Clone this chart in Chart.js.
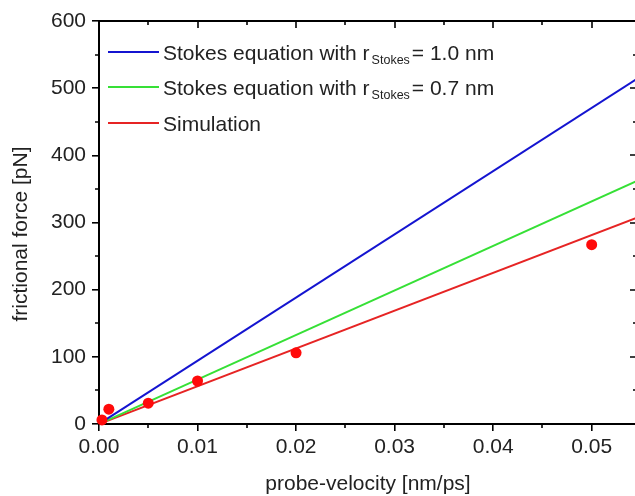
<!DOCTYPE html>
<html>
<head>
<meta charset="utf-8">
<script src="https://cdn.jsdelivr.net/npm/chart.js@4/dist/chart.umd.min.js"></script>
<style>
html,body{margin:0;padding:0;background:#fff;overflow:hidden;width:635px;height:496px;}
canvas{display:block;}
</style>
</head>
<body>
<canvas id="c" width="642" height="496"></canvas>
<script>
// ---- data ----
const xTicks = [0, 0.01, 0.02, 0.03, 0.04, 0.05];
const xTickLabels = ['0.00', '0.01', '0.02', '0.03', '0.04', '0.05'];
const xMinorTicks = [0.005, 0.015, 0.025, 0.035, 0.045];
const yTicks = [0, 100, 200, 300, 400, 500, 600];
const yTickLabels = ['0', '100', '200', '300', '400', '500', '600'];
const yMinorTicks = [50, 150, 250, 350, 450, 550];
const xMin = 0, xMax = 0.0546, yMin = 0, yMax = 600;

const lineX = [0, 0.0546];
const stokes10 = [0, 514];   // r_Stokes = 1.0 nm
const stokes07 = [0, 362];   // r_Stokes = 0.7 nm
const simFit = [0, 307];     // simulation fit line

const simX = [0.0003, 0.001, 0.005, 0.01, 0.02, 0.05];
const simY = [6, 22, 31, 64, 106, 267];

const legendMain = ['Stokes equation with r', 'Stokes equation with r', 'Simulation'];
const legendSub = ['Stokes', 'Stokes', ''];
const legendTail = ['= 1.0 nm', '= 0.7 nm', ''];
const xTitle = 'probe-velocity [nm/ps]';
const yTitle = 'frictional force [pN]';

const colBlue = '#1414d0', colGreen = '#36e036', colRed = '#e62424', colDot = '#ff0a0a';
const FONT = "'Liberation Sans', Arial, sans-serif";

const pts = (xs, ys) => xs.map((x, i) => ({x: x, y: ys[i]}));

const decor = {
  id: 'decor',
  afterDraw(chart) {
    const ctx = chart.ctx, a = chart.chartArea;
    const xs = chart.scales.x, ys = chart.scales.y;
    ctx.save();
    ctx.strokeStyle = '#000';
    ctx.lineWidth = 2;
    ctx.beginPath();
    ctx.moveTo(a.left - 1, a.top); ctx.lineTo(a.right, a.top);
    ctx.moveTo(a.right, a.top); ctx.lineTo(a.right, a.bottom);
    ctx.stroke();
    ctx.lineWidth = 1.6;
    ctx.beginPath();
    xMinorTicks.forEach(v => {
      const p = Math.round(xs.getPixelForValue(v));
      ctx.moveTo(p, a.bottom); ctx.lineTo(p, a.bottom + 4);
      ctx.moveTo(p, a.top); ctx.lineTo(p, a.top + 4);
    });
    xTicks.forEach(v => {
      const p = Math.round(xs.getPixelForValue(v));
      ctx.moveTo(p, a.top); ctx.lineTo(p, a.top + 7);
    });
    yMinorTicks.forEach(v => {
      const p = Math.round(ys.getPixelForValue(v));
      ctx.moveTo(a.left, p); ctx.lineTo(a.left - 4, p);
      ctx.moveTo(a.right, p); ctx.lineTo(a.right - 4, p);
    });
    yTicks.forEach(v => {
      const p = Math.round(ys.getPixelForValue(v));
      ctx.moveTo(a.right, p); ctx.lineTo(a.right - 7, p);
    });
    ctx.stroke();

    ctx.fillStyle = '#222';
    ctx.font = '21px ' + FONT;
    ctx.textAlign = 'center';
    ctx.textBaseline = 'middle';
    ctx.fillText(xTitle, 368, 484);
    ctx.save();
    ctx.translate(21, 234);
    ctx.rotate(-Math.PI / 2);
    ctx.fillText(yTitle, 0, 0);
    ctx.restore();

    const cols = [colBlue, colGreen, colRed];
    const rows = [52, 87, 123];
    ctx.textAlign = 'left';
    ctx.textBaseline = 'alphabetic';
    rows.forEach((y, i) => {
      ctx.strokeStyle = cols[i];
      ctx.lineWidth = 2;
      ctx.beginPath();
      ctx.moveTo(108, y); ctx.lineTo(159, y);
      ctx.stroke();
      ctx.fillStyle = '#222';
      ctx.font = '21px ' + FONT;
      let x = 163;
      const base = y + 8;
      ctx.fillText(legendMain[i], x, base);
      x += ctx.measureText(legendMain[i]).width;
      if (legendSub[i]) {
        ctx.font = '12.5px ' + FONT;
        x += 2;
        ctx.fillText(legendSub[i], x, base + 4);
        x += ctx.measureText(legendSub[i]).width + 2;
        ctx.font = '21px ' + FONT;
        ctx.fillText(legendTail[i], x, base);
      }
    });
    ctx.restore();
  }
};

new Chart(document.getElementById('c'), {
  type: 'scatter',
  data: {
    datasets: [
      {label: 'Simulation points', data: pts(simX, simY), showLine: false,
       pointRadius: 5.5, pointBackgroundColor: colDot, pointBorderWidth: 0, clip: false, order: 0},
      {label: 'Stokes equation with r_Stokes = 1.0 nm', data: pts(lineX, stokes10), showLine: true,
       borderColor: colBlue, borderWidth: 2, pointRadius: 0, order: 1},
      {label: 'Stokes equation with r_Stokes = 0.7 nm', data: pts(lineX, stokes07), showLine: true,
       borderColor: colGreen, borderWidth: 2, pointRadius: 0, order: 2},
      {label: 'Simulation', data: pts(lineX, simFit), showLine: true,
       borderColor: colRed, borderWidth: 2, pointRadius: 0, order: 3}
    ]
  },
  options: {
    responsive: false,
    animation: false,
    devicePixelRatio: 1,
    layout: {autoPadding: false, padding: {top: 21, right: 5, left: 0, bottom: 0}},
    plugins: {legend: {display: false}, tooltip: {enabled: false}},
    scales: {
      x: {
        type: 'linear', min: xMin, max: xMax,
        afterBuildTicks: s => { s.ticks = xTicks.map(v => ({value: v})); },
        afterFit: s => { s.height = 72; s.paddingLeft = 0; s.paddingRight = 0; },
        ticks: {callback: (v, i) => xTickLabels[i], color: '#222', font: {family: FONT, size: 21}, padding: 4, maxRotation: 0},
        grid: {display: true, drawOnChartArea: false, drawTicks: true, tickLength: 7, color: '#000', lineWidth: 1.6},
        border: {display: true, color: '#000', width: 2}
      },
      y: {
        type: 'linear', min: yMin, max: yMax,
        afterBuildTicks: s => { s.ticks = yTicks.map(v => ({value: v})); },
        afterFit: s => { s.width = 99; s.paddingTop = 0; s.paddingBottom = 0; },
        ticks: {callback: (v, i) => yTickLabels[i], color: '#222', font: {family: FONT, size: 21}, padding: 6},
        grid: {display: true, drawOnChartArea: false, drawTicks: true, tickLength: 7, color: '#000', lineWidth: 1.6},
        border: {display: true, color: '#000', width: 2}
      }
    }
  },
  plugins: [decor]
});
</script>
</body>
</html>
